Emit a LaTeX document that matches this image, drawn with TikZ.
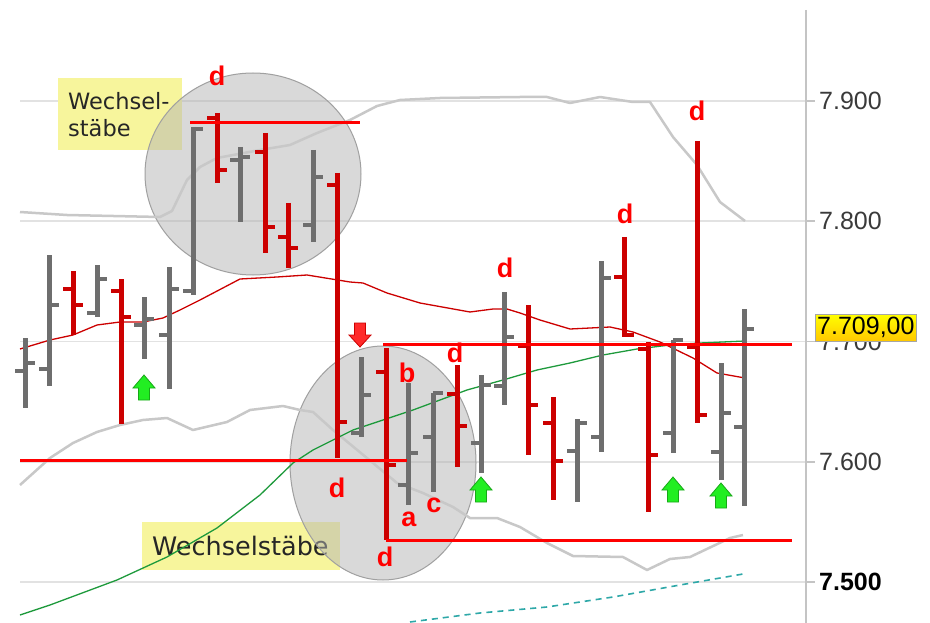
\documentclass[tikz,border=0pt]{standalone}
\usepackage{fontspec}
\setmainfont{Liberation Sans}
\newfontfamily\notefont{DejaVu Sans}
\definecolor{barGray}{HTML}{6E6E6E}
\definecolor{barRed}{HTML}{CC0000}
\definecolor{levelRed}{HTML}{FF0000}
\definecolor{gridGray}{HTML}{E2E2E2}
\definecolor{bandGray}{HTML}{C8C8C8}
\definecolor{axisGray}{HTML}{C4C4C4}
\definecolor{zoneGray}{HTML}{B4B4B4}
\definecolor{zoneEdge}{HTML}{A0A0A0}
\definecolor{noteYellow}{HTML}{F7F59C}
\definecolor{maGreen}{HTML}{1E9A3C}
\definecolor{maTeal}{HTML}{2EA8A8}
\definecolor{arrowGreen}{HTML}{22EE22}
\definecolor{arrowGreenEdge}{HTML}{18A818}
\definecolor{arrowRed}{HTML}{FF2A2A}
\definecolor{labelGray}{HTML}{3A3A3A}
\definecolor{priceGold}{HTML}{FFC800}
\tikzset{
  grid line/.style={draw=gridGray,line width=1.5pt},
  band line/.style={draw=bandGray,line width=2.5pt,line join=round},
  ohlc bar/.style={line width=5pt},
  bar tick/.style={line width=4pt},
  up bar/.style={draw=barGray},
  down bar/.style={draw=barRed},
  level line/.style={draw=levelRed,line width=3pt},
  zone/.style={draw=zoneEdge,fill=zoneGray,fill opacity=0.5,line width=1pt},
  note/.style={fill=noteYellow,text=black!85,align=left,inner xsep=10pt,inner ysep=0pt,anchor=north west},
  price label/.style={anchor=west,text=labelGray,inner sep=0pt,font=\fontsize{25}{25}\selectfont},
  bar letter/.style={text=levelRed,inner sep=0pt,font=\bfseries\fontsize{27}{27}\selectfont},
  pics/buy arrow/.style={code={
    \draw[draw=arrowGreenEdge,fill=arrowGreen,line width=0.8pt,line join=miter]
      (-5.5,0) -- (-5.5,-12) -- (-11,-12) -- (0,-25) -- (11,-12) -- (5.5,-12) -- (5.5,0) -- cycle;}},
  pics/sell arrow/.style={code={
    \draw[draw=barRed,fill=arrowRed,line width=0.8pt,line join=miter]
      (-5.5,0) -- (-5.5,12) -- (-11,12) -- (0,24) -- (11,12) -- (5.5,12) -- (5.5,0) -- cycle;}},
}
% x, high, low, open, close, colour style
\newcommand{\ohlc}[6]{%
  \draw[ohlc bar,#6] (#1,#2) -- (#1,#3);
  \draw[bar tick,#6] (#1-10,#4) -- (#1,#4);
  \draw[bar tick,#6] (#1,#5) -- (#1+10,#5);
}

\begin{document}
\begin{tikzpicture}[x=1pt,y=-1pt]
\useasboundingbox (0,0) rectangle (930,623);
\fill[white] (0,0) rectangle (930,623);
%the grid and the axis
\foreach \gy in {101,221,341.5,462,582}{
  \draw[grid line] (20,\gy) -- (815,\gy);
}
\draw[draw=axisGray,line width=2.5pt] (806,10) -- (806,623);
%the notes
\node[note,minimum width=124pt,minimum height=72pt,text width=104pt,font=\notefont\fontsize{22.5}{27}\selectfont] (noteTop) at (58,78) {Wechsel-\\stäbe};
\node[note,minimum width=198pt,minimum height=48pt,text width=178pt,font=\notefont\fontsize{25.5}{27}\selectfont] (noteLow) at (142,522) {Wechselstäbe};
%the zones
\draw[zone] (253,174) ellipse [x radius=108pt,y radius=101pt];
\draw[zone] (383,463) ellipse [x radius=93pt,y radius=117pt];
%bands and averages
\draw[band line] (20,212) -- (67,215) -- (160,217) -- (172,211) -- (187,180) -- (200,167) -- (217,158) -- (260,150) -- (290,145) -- (317,133) -- (350,120) -- (377,106) -- (400,100) -- (440,98) -- (520,97) -- (547,97) -- (570,103) -- (600,97) -- (633,102) -- (650,102) -- (673,137) -- (697,165) -- (720,202) -- (745,221);
\draw[band line] (20,485) -- (50,458) -- (73,443) -- (97,432) -- (120,425) -- (143,420) -- (167,418) -- (193,430) -- (227,422) -- (250,410) -- (283,406) -- (300,410) -- (313,412) -- (333,430) -- (373,463) -- (397,483) -- (423,493) -- (453,507) -- (470,518) -- (497,518) -- (520,527) -- (547,543) -- (573,556) -- (623,557) -- (647,570) -- (670,559) -- (690,557) -- (730,538) -- (743,535);
\draw[draw=barRed,line width=1.3pt] (20,349) -- (50,340) -- (73,335) -- (97,325) -- (120,322) -- (143,322) -- (163,318) -- (180,310) -- (200,300) -- (240,279) -- (277,277) -- (307,275) -- (350,282) -- (363,283) -- (387,293) -- (420,303) -- (470,312) -- (493,309) -- (507,309) -- (520,313) -- (540,320) -- (570,329) -- (610,327) -- (633,332) -- (660,342) -- (693,358) -- (717,373) -- (745,378);
\draw[draw=maGreen,line width=1.3pt] (20,615) -- (50,605) -- (117,580) -- (167,557) -- (217,528) -- (260,495) -- (293,463) -- (313,450) -- (353,430) -- (413,410) -- (467,390) -- (503,380) -- (537,370) -- (570,363) -- (603,355) -- (637,349) -- (670,345) -- (700,343) -- (745,341);
\draw[draw=maTeal,line width=1.6pt,dash pattern=on 6pt off 5pt] (410,622) -- (480,613) -- (547,607) -- (613,597) -- (680,585) -- (743,574);
%the bars
\ohlc{25}{338}{408}{371}{363}{up bar}
\ohlc{49}{255}{386}{369}{305}{up bar}
\ohlc{73}{271}{335}{289}{305}{down bar}
\ohlc{97}{265}{317}{313}{279}{up bar}
\ohlc{121}{279}{424}{291}{317}{down bar}
\ohlc{144}{297}{359}{325}{319}{up bar}
\ohlc{169}{267}{389}{335}{289}{up bar}
\ohlc{193}{127}{295}{291}{129}{up bar}
\ohlc{217}{113}{183}{118}{170}{down bar}
\ohlc{240}{147}{222}{160}{157}{up bar}
\ohlc{265}{133}{253}{152}{227}{down bar}
\ohlc{288}{203}{268}{237}{248}{down bar}
\ohlc{313}{150}{242}{225}{177}{up bar}
\ohlc{337}{173}{458}{185}{422}{down bar}
\ohlc{361}{357}{437}{433}{395}{up bar}
\ohlc{386}{348}{540}{372}{465}{down bar}
\ohlc{408}{383}{505}{485}{453}{up bar}
\ohlc{433}{393}{492}{437}{393}{up bar}
\ohlc{457}{365}{467}{394}{426}{down bar}
\ohlc{481}{375}{473}{443}{385}{up bar}
\ohlc{504}{292}{405}{386}{337}{up bar}
\ohlc{528}{305}{455}{346}{405}{down bar}
\ohlc{553}{397}{500}{423}{461}{down bar}
\ohlc{577}{419}{502}{451}{423}{up bar}
\ohlc{601}{261}{452}{437}{278}{up bar}
\ohlc{624}{237}{337}{277}{335}{down bar}
\ohlc{648}{342}{512}{349}{455}{down bar}
\ohlc{673}{340}{453}{433}{340}{up bar}
\ohlc{697}{141}{423}{347}{415}{down bar}
\ohlc{721}{363}{480}{452}{413}{up bar}
\ohlc{744}{309}{506}{427}{329}{up bar}
%the levels
\draw[level line] (190,123) -- (360,123);
\draw[level line] (20,460) -- (407,460);
\draw[level line] (383,344) -- (792,344);
\draw[level line] (386,540) -- (792,540);
%the letters
\node[bar letter] (dA) at (217,76) {d};
\node[bar letter] (dB) at (337,488) {d};
\node[bar letter] (dC) at (385,557) {d};
\node[bar letter] (dD) at (455,353) {d};
\node[bar letter] (dE) at (505,268) {d};
\node[bar letter] (dF) at (625,214) {d};
\node[bar letter] (dG) at (697,111) {d};
\node[bar letter] (lA) at (409,519) {a};
\node[bar letter] (lB) at (407,373) {b};
\node[bar letter] (lC) at (434,505) {c};
%the arrows
\pic (sellA) at (360,323) {sell arrow};
\pic (buyA) at (144,400) {buy arrow};
\pic (buyB) at (481,502) {buy arrow};
\pic (buyC) at (673,502) {buy arrow};
\pic (buyD) at (721,508) {buy arrow};
%the price scale
\foreach \gy in {101,221,341.5,462,582}{
  \draw[draw=axisGray,line width=1.5pt] (806,\gy) -- (815,\gy);
}
\node[price label] (pA) at (819,101) {7.900};
\node[price label] (pB) at (819,221) {7.800};
\node[price label] (pC) at (819,341.5) {7.700};
\node[price label] (pD) at (819,462) {7.600};
\node[price label,font=\bfseries\fontsize{25}{25}\selectfont,text=black] (pE) at (819,582) {7.500};
\node[anchor=west,draw=gray!70,top color=yellow,bottom color=priceGold,inner xsep=2pt,inner ysep=3pt,font=\fontsize{25}{25}\selectfont] (pLast) at (815,327.5) {7.709,00};
\end{tikzpicture}
\end{document}
